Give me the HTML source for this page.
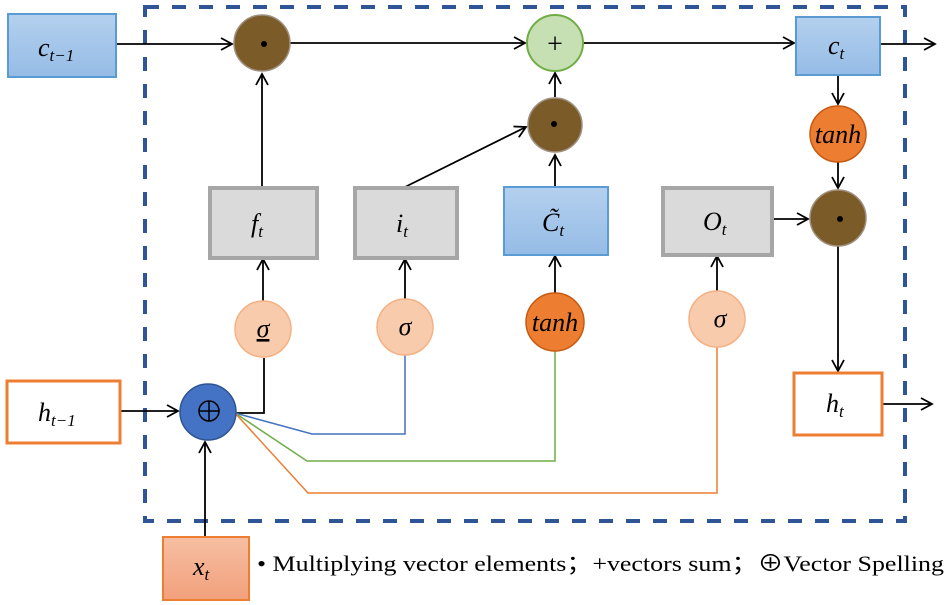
<!DOCTYPE html>
<html><head><style>
body{margin:0;background:#fff}
svg{display:block}
text{font-family:"Liberation Serif",serif}
.m{font-style:italic;font-size:26px}
</style></head><body>
<svg width="950" height="605" viewBox="0 0 950 605" xmlns="http://www.w3.org/2000/svg">
<defs>
<marker id="a" markerWidth="14" markerHeight="14" refX="12" refY="7" orient="auto" markerUnits="userSpaceOnUse">
<path d="M1,1 L12,7 L1,13" fill="none" stroke="#000" stroke-width="1.8"/></marker>
<linearGradient id="bl" x1="0" y1="0" x2="0" y2="1"><stop offset="0" stop-color="#b4d0ee"/><stop offset="1" stop-color="#95bce6"/></linearGradient>
<linearGradient id="or" x1="0" y1="0" x2="0" y2="1"><stop offset="0" stop-color="#f6bfa2"/><stop offset="1" stop-color="#f2a07c"/></linearGradient>
</defs>
<rect x="145" y="7" width="760" height="514" fill="none" stroke="#2f5597" stroke-width="4" stroke-dasharray="14,13"/>
<g stroke="#000" stroke-width="1.8" fill="none">
<line x1="116" y1="44" x2="232" y2="44" marker-end="url(#a)"/>
<line x1="290" y1="43" x2="525" y2="43" marker-end="url(#a)"/>
<line x1="583" y1="43" x2="794" y2="43" marker-end="url(#a)"/>
<line x1="880" y1="44" x2="935" y2="44" marker-end="url(#a)"/>
<line x1="262" y1="187" x2="262" y2="74" marker-end="url(#a)"/>
<line x1="405" y1="187" x2="526" y2="127" marker-end="url(#a)"/>
<line x1="555" y1="97" x2="555" y2="73" marker-end="url(#a)"/>
<line x1="555" y1="187" x2="555" y2="155" marker-end="url(#a)"/>
<line x1="838" y1="75" x2="838" y2="104" marker-end="url(#a)"/>
<line x1="838" y1="162" x2="838" y2="188" marker-end="url(#a)"/>
<line x1="772" y1="219" x2="808" y2="219" marker-end="url(#a)"/>
<line x1="838" y1="246" x2="838" y2="371" marker-end="url(#a)"/>
<line x1="882" y1="404" x2="932" y2="404" marker-end="url(#a)"/>
<line x1="263" y1="301" x2="263" y2="259" marker-end="url(#a)"/>
<line x1="405" y1="299" x2="405" y2="259" marker-end="url(#a)"/>
<line x1="555" y1="294" x2="555" y2="256" marker-end="url(#a)"/>
<line x1="717" y1="291" x2="717" y2="256" marker-end="url(#a)"/>
<line x1="120" y1="411" x2="178" y2="411" marker-end="url(#a)"/>
<line x1="205" y1="537" x2="205" y2="442" marker-end="url(#a)"/>
<polyline points="235,413 264,413 264,358"/>
</g>
<polyline points="235,413 312,434 405,434 405,355" fill="none" stroke="#4472c4" stroke-width="1.5"/>
<polyline points="235,413 307,461 555,461 555,350" fill="none" stroke="#70ad47" stroke-width="1.5"/>
<polyline points="235,413 308,493 717,493 717,347" fill="none" stroke="#ed7d31" stroke-width="1.5"/>
<rect x="8" y="14" width="108" height="63" fill="url(#bl)" stroke="#5b9bd5" stroke-width="2"/>
<text x="38" y="56" class="m">c<tspan font-size="17" dy="5">t−1</tspan></text>
<rect x="210" y="188" width="107" height="70" fill="#dadada" stroke="#a6a6a6" stroke-width="4"/>
<text x="251" y="232" class="m">f<tspan font-size="17" dy="5">t</tspan></text>
<rect x="355" y="188" width="102" height="70" fill="#dadada" stroke="#a6a6a6" stroke-width="4"/>
<text x="396" y="232" class="m">i<tspan font-size="17" dy="5">t</tspan></text>
<rect x="504" y="187" width="104" height="68" fill="url(#bl)" stroke="#5b9bd5" stroke-width="2"/>
<text x="542" y="231" class="m">C̃<tspan font-size="17" dy="5">t</tspan></text>
<rect x="663" y="188" width="109" height="67" fill="#dadada" stroke="#a6a6a6" stroke-width="4"/>
<text x="703" y="230" class="m">O<tspan font-size="17" dy="5">t</tspan></text>
<rect x="796" y="17" width="84" height="58" fill="url(#bl)" stroke="#5b9bd5" stroke-width="2"/>
<text x="828" y="54" class="m">c<tspan font-size="17" dy="5">t</tspan></text>
<rect x="794" y="373" width="88" height="62" fill="#fff" stroke="#ed7d31" stroke-width="3"/>
<text x="826" y="412" class="m">h<tspan font-size="17" dy="5">t</tspan></text>
<rect x="7" y="381" width="113" height="62" fill="#fff" stroke="#ed7d31" stroke-width="3"/>
<text x="38" y="421" class="m">h<tspan font-size="17" dy="5">t−1</tspan></text>
<rect x="163" y="537" width="86" height="63" fill="url(#or)" stroke="#ed7d31" stroke-width="2"/>
<text x="193" y="575" class="m">x<tspan font-size="17" dy="5">t</tspan></text>
<g stroke="#a09080" stroke-width="1.5">
<circle cx="262" cy="43" r="28" fill="#7b5b28"/>
<circle cx="555" cy="125" r="27" fill="#7b5b28"/>
<circle cx="838" cy="218" r="28" fill="#7b5b28"/>
</g>
<circle cx="264" cy="44" r="3" fill="#000"/>
<circle cx="554" cy="124" r="3" fill="#000"/>
<circle cx="840" cy="219" r="3" fill="#000"/>
<circle cx="555" cy="43" r="28" fill="#c6e0b4" stroke="#70ad47" stroke-width="2"/>
<text x="555" y="53" font-size="28" text-anchor="middle">+</text>
<circle cx="838" cy="134" r="28" fill="#ed7d31" stroke="#c55a11" stroke-width="1.5"/>
<text x="838" y="143" class="m" text-anchor="middle">tanh</text>
<circle cx="555" cy="322" r="29" fill="#ed7d31" stroke="#c55a11" stroke-width="1.5"/>
<text x="555" y="331" class="m" text-anchor="middle">tanh</text>
<g fill="#f8cbad" stroke="#f4b183" stroke-width="1.5">
<circle cx="263" cy="329" r="28"/><circle cx="405" cy="327" r="28"/><circle cx="717" cy="319" r="28"/>
</g>
<text x="263" y="337" class="m" text-anchor="middle" text-decoration="underline">σ</text>
<text x="405" y="335" class="m" text-anchor="middle">σ</text>
<text x="720" y="327" class="m" text-anchor="middle">σ</text>
<circle cx="208" cy="412" r="28" fill="#4472c4" stroke="#2f5597" stroke-width="1.5"/>
<circle cx="209" cy="411" r="10" fill="none" stroke="#000" stroke-width="1.5"/>
<line x1="199" y1="411" x2="219" y2="411" stroke="#000" stroke-width="1.5"/>
<line x1="209" y1="401" x2="209" y2="421" stroke="#000" stroke-width="1.5"/>
<text x="257" y="571" font-size="22" textLength="687" lengthAdjust="spacingAndGlyphs">• Multiplying vector elements；+vectors sum；⊕Vector Spelling</text>
</svg>
</body></html>
